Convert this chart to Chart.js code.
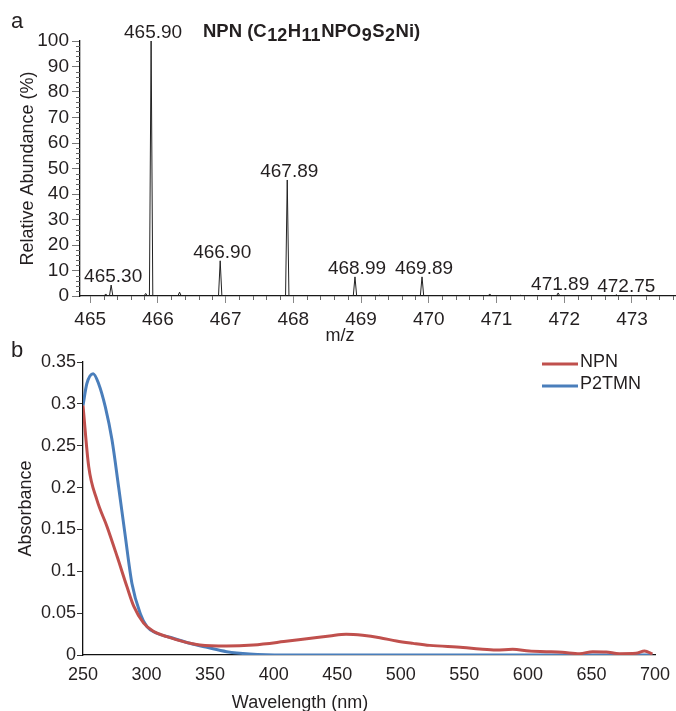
<!DOCTYPE html>
<html>
<head>
<meta charset="utf-8">
<script src="https://cdn.jsdelivr.net/npm/chart.js@4.4.0/dist/chart.umd.min.js"></script>
<style>
  html, body { margin: 0; padding: 0; background: #fff; }
  body { width: 676px; height: 711px; position: relative; overflow: hidden; }
  canvas { position: absolute; left: 0; }
  #ms { top: 0; }
  #uv { top: 335px; }
</style>
</head>
<body>
<canvas id="ms" width="676" height="345"></canvas>
<canvas id="uv" width="676" height="376"></canvas>
<script>
// -------------------------
// PANEL A: MASS SPECTRUM
// -------------------------
const peakMz    = [465.23, 465.31, 465.82, 465.90, 466.32, 466.92, 467.91, 468.91, 469.27, 469.90, 470.90, 471.35, 471.91, 472.77];
const peakAbund = [0.8, 4.3, 1.0, 100, 1.5, 13.8, 45.5, 7.5, 0.3, 7.5, 0.8, 0.3, 1.2, 0.5];
const peakLabel = [null, "465.30", null, "465.90", null, "466.90", "467.89", "468.99", null, "469.89", null, null, "471.89", "472.75"];
const mzMin = 464.85, mzMax = 473.65;
const mzTicks = [465, 466, 467, 468, 469, 470, 471, 472, 473];

// -------------------------
// PANEL B: ABSORBANCE
// -------------------------
const nmNPN  = [250, 254.5, 261, 269, 277, 284.6, 290, 297.7, 305.6, 316, 329, 342, 363, 384, 408, 434, 444, 457, 470, 483.5, 496.6, 509.7, 522.8, 549, 562, 575, 588, 601, 614.5, 627, 640.7, 651, 661.6, 672, 685, 691.8, 698];
const absNPN = [0.298, 0.225, 0.185, 0.153, 0.117, 0.0815, 0.058, 0.038, 0.028, 0.022, 0.016, 0.012, 0.0107, 0.012, 0.016, 0.021, 0.0227, 0.0247, 0.0235, 0.0207, 0.0167, 0.0139, 0.0115, 0.0091, 0.0072, 0.006, 0.0068, 0.0048, 0.004, 0.0032, 0.0016, 0.004, 0.0036, 0.0016, 0.002, 0.0048, 0.0012];
const nmP2   = [250, 253, 258, 262.3, 267.6, 272.8, 278, 283, 288.5, 295, 300.3, 308, 321, 334, 347.5, 363, 381, 408, 450, 500, 550, 600, 650, 698];
const absP2  = [0.298, 0.324, 0.336, 0.324, 0.296, 0.257, 0.201, 0.145, 0.0855, 0.0497, 0.034, 0.026, 0.02, 0.014, 0.0091, 0.004, 0.0012, 0, 0, 0, 0, 0, 0, 0];

const FONT = "'Liberation Sans', Arial, sans-serif";
const TXT = "#231f20";

function profilePoints() {
  const half = 0.025;
  const pts = [{x: mzMin, y: 0}];
  peakMz.forEach((m, i) => {
    pts.push({x: m - half, y: 0}, {x: m, y: peakAbund[i]}, {x: m + half, y: 0});
  });
  pts.push({x: mzMax, y: 0});
  return pts;
}

function noPad(scale) { scale.paddingLeft = 0; scale.paddingRight = 0; scale.paddingTop = 0; scale.paddingBottom = 0; }

// minor ticks, peak labels, titles
const msDecor = {
  id: "msDecor",
  afterDraw(chart) {
    const ctx = chart.ctx, xs = chart.scales.x, ys = chart.scales.y;
    const y0 = ys.getPixelForValue(0), xl = xs.left;
    ctx.save();
    ctx.strokeStyle = "#666";
    ctx.lineWidth = 1;
    for (let v = 465; v < mzMax; v += 0.2) {
      if (Math.abs(v - Math.round(v)) < 1e-6) continue;
      const px = Math.round(xs.getPixelForValue(v)) + 0.5;
      ctx.beginPath(); ctx.moveTo(px, y0); ctx.lineTo(px, y0 + 4); ctx.stroke();
    }
    for (let v = 2; v < 100; v += 2) {
      if (v % 10 === 0) continue;
      const py = Math.round(ys.getPixelForValue(v)) + 0.5;
      ctx.beginPath(); ctx.moveTo(xl, py); ctx.lineTo(xl - 4, py); ctx.stroke();
    }
    // peak labels (nudged right if they would touch the previous one)
    ctx.fillStyle = TXT;
    ctx.font = "19px " + FONT;
    ctx.textAlign = "center";
    ctx.textBaseline = "alphabetic";
    let prevRight = -1e9, prevY = null;
    peakMz.forEach((m, i) => {
      if (!peakLabel[i]) return;
      const w = ctx.measureText(peakLabel[i]).width;
      let cx = xs.getPixelForValue(m) + 2;
      const cy = ys.getPixelForValue(peakAbund[i]) - 3;
      if (prevY !== null && Math.abs(cy - prevY) < 20 && cx - w / 2 < prevRight + 8) cx = prevRight + 8 + w / 2;
      ctx.fillText(peakLabel[i], cx, cy);
      prevRight = cx + w / 2; prevY = cy;
    });
    // formula title with subscripts
    const parts = [["NPN (C", 0], ["12", 1], ["H", 0], ["11", 1], ["NPO", 0], ["9", 1], ["S", 0], ["2", 1], ["Ni)", 0]];
    ctx.textAlign = "left";
    let tx = 203;
    parts.forEach(([s, sub]) => {
      ctx.font = "bold " + (sub ? 18 : 18.5) + "px " + FONT;
      if (sub) tx += 0.5;
      ctx.fillText(s, tx, sub ? 41 : 37);
      tx += ctx.measureText(s).width + (sub ? 0.5 : 0);
    });
    ctx.font = "22px " + FONT;
    ctx.fillText("a", 11, 28);
    ctx.font = "18px " + FONT;
    ctx.textAlign = "center";
    ctx.fillText("m/z", 340, 341);
    ctx.restore();
  }
};

new Chart(document.getElementById("ms"), {
  type: "line",
  data: {
    datasets: [{
      data: profilePoints(),
      borderColor: "#222",
      borderWidth: 1,
      pointRadius: 0,
      tension: 0
    }]
  },
  options: {
    responsive: false,
    animation: false,
    layout: { padding: { top: 41, left: 0, right: 0, bottom: 0 } },
    plugins: { legend: { display: false }, tooltip: { enabled: false } },
    scales: {
      x: {
        type: "linear",
        min: mzMin,
        max: mzMax,
        afterBuildTicks: s => { s.ticks = mzTicks.map(v => ({value: v})); },
        afterFit: s => { s.height = 49; noPad(s); },
        grid: { drawOnChartArea: false, drawTicks: true, tickLength: 7, color: "#888" },
        border: { display: true, color: "#111", width: 1.3 },
        ticks: { font: { family: FONT, size: 19 }, color: TXT, padding: 5, maxRotation: 0, autoSkip: false }
      },
      y: {
        min: 0,
        max: 100,
        afterFit: s => { s.width = 80; noPad(s); },
        grid: { drawOnChartArea: false, drawTicks: true, tickLength: 8, color: "#777" },
        border: { display: true, color: "#111", width: 1.3 },
        ticks: { stepSize: 10, font: { family: FONT, size: 19 }, color: TXT, padding: 3, autoSkip: false },
        title: { display: true, text: "Relative Abundance (%)", font: { family: FONT, size: 18 }, color: TXT, padding: { top: 17, bottom: 0 } }
      }
    }
  },
  plugins: [msDecor]
});

// legend, panel letter, x title
const uvDecor = {
  id: "uvDecor",
  afterDraw(chart) {
    const ctx = chart.ctx;
    ctx.save();
    ctx.fillStyle = TXT;
    ctx.font = "18px " + FONT;
    ctx.textBaseline = "middle";
    ctx.textAlign = "left";
    chart.data.datasets.forEach((ds, i) => {
      const y = 29 + i * 22;
      ctx.strokeStyle = ds.borderColor;
      ctx.lineWidth = 3;
      ctx.beginPath(); ctx.moveTo(542, y); ctx.lineTo(578, y); ctx.stroke();
      ctx.fillText(ds.label, 580, y - 2);
    });
    ctx.textBaseline = "alphabetic";
    ctx.font = "22px " + FONT;
    ctx.fillText("b", 11, 22);
    ctx.font = "18px " + FONT;
    ctx.textAlign = "center";
    ctx.fillText("Wavelength (nm)", 300, 373);
    ctx.restore();
  }
};

new Chart(document.getElementById("uv"), {
  type: "line",
  data: {
    datasets: [
      {
        label: "NPN",
        data: nmNPN.map((x, i) => ({x, y: absNPN[i]})),
        borderColor: "#c0504d",
        borderWidth: 3,
        pointRadius: 0,
        cubicInterpolationMode: "monotone"
      },
      {
        label: "P2TMN",
        data: nmP2.map((x, i) => ({x, y: absP2[i]})),
        borderColor: "#4a7ebb",
        borderWidth: 3,
        pointRadius: 0,
        cubicInterpolationMode: "monotone"
      }
    ]
  },
  options: {
    responsive: false,
    animation: false,
    layout: { padding: { top: 27, left: 0, right: 21, bottom: 0 } },
    plugins: { legend: { display: false }, tooltip: { enabled: false } },
    scales: {
      x: {
        type: "linear",
        min: 250,
        max: 700,
        afterFit: s => { s.height = 56; noPad(s); },
        grid: { display: false },
        border: { display: true, color: "#111", width: 1.3 },
        ticks: { stepSize: 50, font: { family: FONT, size: 18 }, color: TXT, padding: 1, maxRotation: 0 }
      },
      y: {
        min: 0,
        max: 0.35,
        afterFit: s => { s.width = 83; noPad(s); },
        grid: { drawOnChartArea: false, drawTicks: true, tickLength: 6, color: "#333" },
        border: { display: true, color: "#111", width: 1.3 },
        ticks: { stepSize: 0.05, font: { family: FONT, size: 18 }, color: TXT, padding: 1, callback: v => String(+v.toFixed(2)) },
        title: { display: true, text: "Absorbance", font: { family: FONT, size: 18 }, color: TXT, padding: { top: 15, bottom: 0 } }
      }
    }
  },
  plugins: [uvDecor]
});
</script>
</body>
</html>
